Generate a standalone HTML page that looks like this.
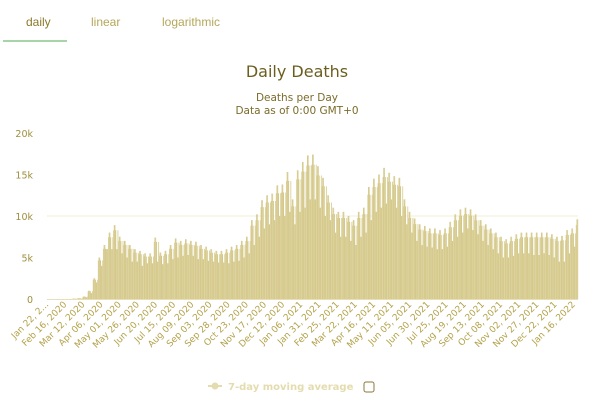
<!DOCTYPE html>
<html><head><meta charset="utf-8"><style>
body{margin:0;background:#fff;font-family:"Liberation Sans",sans-serif;}
#w{position:relative;width:594px;height:413px;overflow:hidden;}
.tab{position:absolute;top:15px;font-size:12px;color:#b5a75a;}
</style></head><body>
<div id="w">
<div class="tab" style="left:26px;color:#8a7a2a">daily</div>
<div class="tab" style="left:91px">linear</div>
<div class="tab" style="left:162px">logarithmic</div>
<div style="position:absolute;left:3px;top:40px;width:64px;height:2px;background:#a8d5a8"></div>
<svg id="c" width="594" height="413" style="position:absolute;left:0;top:0"></svg>
</div>
<script>
const tickLabels=["Jan 22, 2...","Feb 16, 2020","Mar 12, 2020","Apr 06, 2020","May 01, 2020","May 26, 2020","Jun 20, 2020","Jul 15, 2020","Aug 09, 2020","Sep 03, 2020","Sep 28, 2020","Oct 23, 2020","Nov 17, 2020","Dec 12, 2020","Jan 06, 2021","Jan 31, 2021","Feb 25, 2021","Mar 22, 2021","Apr 16, 2021","May 11, 2021","Jun 05, 2021","Jun 30, 2021","Jul 25, 2021","Aug 19, 2021","Sep 13, 2021","Oct 08, 2021","Nov 02, 2021","Nov 27, 2021","Dec 22, 2021","Jan 16, 2022"];
const yTicks=[0,5000,10000,15000,20000];
const yTickLabels=["0","5k","10k","15k","20k"];
// weekly high / low daily deaths (k), week 0 = Jan 22 2020
const weeklyHigh=[0,0,0,0,0,0.05,0.1,0.3,1,2.5,5,6.5,8,8.9,7.5,7,6.5,6,5.8,5.5,5.5,7.4,5.6,5.8,6.5,7.3,7,7.2,7,6.9,6.5,6.3,6,5.8,5.8,6,6.3,6.5,7,7.5,9.5,10.2,11.9,12.5,12.7,13.7,13.8,15.3,12,15.5,16.5,17.3,17.4,16,14.6,12.5,11,10.5,10.5,10,9.5,10.5,11,13.5,14.5,15,15.8,15.2,14.8,14.6,12,10.5,9.7,9,8.8,8.5,8.5,8.3,8.5,9.3,10.2,10.8,11,10.8,10.2,9.5,9,8.5,8,7.5,7.2,7.5,7.8,8,8,8,8,8,8,7.8,7.5,7.6,8.3,8.5,9.6];
const weeklyLow=[0,0,0,0,0,0.02,0.05,0.2,0.7,2,4,6,6,6,5.5,5,4.5,4.5,4,4.3,4.3,4.5,4.2,4.3,4.8,5,5.2,5.3,5.2,4.8,4.8,4.6,4.5,4.4,4.4,4.3,4.5,4.6,5,5.5,6.5,7.5,8.5,9,9.5,10,10,10.5,9,10.5,11,12,12,11,10,9.5,8,7.5,7.5,7,6.5,7.5,8,9.5,10.5,11,11.5,12,11,10,9,8,7,6.5,6.3,6.2,6,6,6.3,7,7.5,8,8.5,8.3,7.8,7,6.5,6,5.5,5,5,5.2,5.5,5.5,5.5,5.3,5.3,5.5,5.3,5,4.5,4.5,5.5,6.3,7];
const NS="http://www.w3.org/2000/svg",svg=document.getElementById('c');
const nDays=731,x0=47,x1=578,y0=299,y20=133;
const X=d=>x0+(x1-x0)*d/nDays, Y=v=>y0-(y0-y20)*v/20000;
function mk(t,a,txt){const e=document.createElementNS(NS,t);for(const k in a)e.setAttribute(k,a[k]);if(txt!=null)e.textContent=txt;svg.appendChild(e);return e;}
let e;
e=mk('text',{x:297,y:77,'text-anchor':'middle','font-size':16,fill:'#6b5e1f','font-family':'DejaVu Sans'},'Daily Deaths');

e=mk('text',{x:297,y:101,'text-anchor':'middle','font-size':10.5,fill:'#7a6c2a','font-family':'DejaVu Sans'},'Deaths per Day');

e=mk('text',{x:297,y:114,'text-anchor':'middle','font-size':10.5,fill:'#7a6c2a','font-family':'DejaVu Sans'},'Data as of 0:00 GMT+0');

yTicks.forEach((v,i)=>{
 if(v===10000){e=mk('line',{x1:x0,x2:x1,y1:Y(v),y2:Y(v),stroke:'#f3efd6','stroke-width':1});
 }
 e=mk('text',{x:33,y:Y(v)+4,'text-anchor':'end','font-size':9.5,fill:'#9e8e3e','font-family':'DejaVu Sans'},yTickLabels[i]);
 
});
const bw=(x1-x0)/nDays;
for(let d=0;d<nDays;d++){
 const w=Math.min(Math.floor(d/7),weeklyHigh.length-1);
 const k=d%7; const v=(k==4||k==5)?weeklyLow[w]:weeklyHigh[w]*(k==1||k==2?1:0.93);
 const h=y0-Y(v*1000);
 e=mk('rect',{x:X(d),y:Y(v*1000),width:bw*1.3,height:h,fill:k%2?'#d2c584':'#dcd29d'});
 
}
e=mk('line',{x1:x0,x2:x1,y1:y0+0.5,y2:y0+0.5,stroke:'#e6dfb8'});

tickLabels.forEach((t,i)=>{
 const x=X(i*25)+2;
 e=mk('text',{x:x,y:305,'text-anchor':'end','font-size':9,fill:'#b3a24a','font-family':'DejaVu Sans',transform:`rotate(-45 ${x} 305)`},t);
 
});
e=mk('line',{x1:208,x2:222,y1:386,y2:386,stroke:'#e4dcae','stroke-width':2});

e=mk('circle',{cx:215,cy:386,r:3.5,fill:'#e4dcae'});

e=mk('text',{x:228,y:390,'font-size':10,'font-weight':'bold',fill:'#e4dcae','font-family':'DejaVu Sans'},'7-day moving average');

e=mk('rect',{x:364,y:382,width:10,height:10,rx:2,fill:'#fff',stroke:'#8a7a3a'});

</script>
</body></html>
